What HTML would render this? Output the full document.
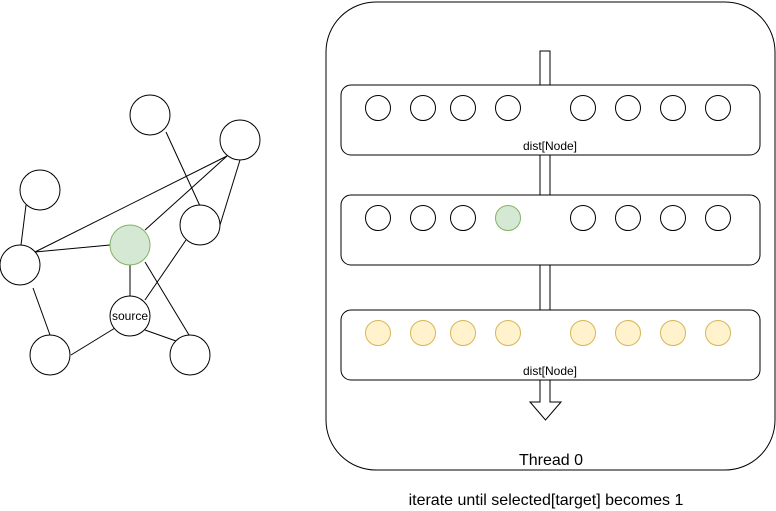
<!DOCTYPE html>
<html><head><style>body{margin:0;background:#fff}svg{display:block}text{font-family:"Liberation Sans",sans-serif}</style></head><body>
<svg width="776" height="511" viewBox="0 0 776 511" xmlns="http://www.w3.org/2000/svg">
<g stroke="#000" stroke-width="1" fill="none">
<line x1="166" y1="132" x2="200" y2="206"/>
<line x1="227" y1="156" x2="35" y2="252"/>
<line x1="227" y1="156" x2="145" y2="230"/>
<line x1="240" y1="160" x2="220" y2="225"/>
<line x1="26" y1="205" x2="21" y2="245"/>
<line x1="35" y1="252" x2="110" y2="245"/>
<line x1="130" y1="265" x2="130" y2="296"/>
<line x1="145" y1="262" x2="189" y2="335"/>
<line x1="186" y1="240" x2="145" y2="300"/>
<line x1="33" y1="288" x2="50" y2="335"/>
<line x1="71" y1="355" x2="115" y2="328"/>
<line x1="145" y1="330" x2="176" y2="341"/>
</g>
<g stroke="#000" fill="#fff">
<circle cx="150" cy="115" r="20"/><circle cx="240" cy="140" r="20"/><circle cx="40" cy="190" r="20"/>
<circle cx="200" cy="225" r="20"/><circle cx="20" cy="265" r="20"/><circle cx="130" cy="316" r="20"/>
<circle cx="50" cy="355" r="20"/><circle cx="190" cy="355" r="20"/>
</g>
<circle cx="130" cy="245" r="20" fill="#d5e8d4" stroke="#82b366"/>
<text x="130" y="320" font-size="12" text-anchor="middle">source</text>
<rect x="326" y="2" width="449" height="468" rx="50" fill="#fff" stroke="#000"/>
<rect x="341" y="85" width="419" height="70" rx="10" fill="#fff" stroke="#000"/>
<rect x="341" y="195" width="419" height="70" rx="10" fill="#fff" stroke="#000"/>
<rect x="341" y="310" width="419" height="70" rx="10" fill="#fff" stroke="#000"/>
<path d="M540 51 H550 V85 H540 Z M540 155 H550 V195 H540 Z M540 265 H550 V310 H540 Z" fill="#fff" stroke="#000"/>
<path d="M540 380 H550 V402 H561 L545.5 420 L530 402 H540 Z" fill="#fff" stroke="#000"/>
<g stroke="#000" fill="#fff">
<circle cx="378" cy="108" r="12.5"/><circle cx="423" cy="108" r="12.5"/><circle cx="463" cy="108" r="12.5"/><circle cx="508" cy="108" r="12.5"/>
<circle cx="583" cy="108" r="12.5"/><circle cx="628" cy="108" r="12.5"/><circle cx="673" cy="108" r="12.5"/><circle cx="718" cy="108" r="12.5"/>
<circle cx="378" cy="218" r="12.5"/><circle cx="423" cy="218" r="12.5"/><circle cx="463" cy="218" r="12.5"/>
<circle cx="583" cy="218" r="12.5"/><circle cx="628" cy="218" r="12.5"/><circle cx="673" cy="218" r="12.5"/><circle cx="718" cy="218" r="12.5"/>
</g>
<circle cx="508" cy="218" r="12.5" fill="#d5e8d4" stroke="#82b366"/>
<g stroke="#d6b656" fill="#fff2cc">
<circle cx="378" cy="333" r="12.5"/><circle cx="423" cy="333" r="12.5"/><circle cx="463" cy="333" r="12.5"/><circle cx="508" cy="333" r="12.5"/>
<circle cx="583" cy="333" r="12.5"/><circle cx="628" cy="333" r="12.5"/><circle cx="673" cy="333" r="12.5"/><circle cx="718" cy="333" r="12.5"/>
</g>
<text x="550" y="150" font-size="12" text-anchor="middle">dist[Node]</text>
<text x="550" y="375" font-size="12" text-anchor="middle">dist[Node]</text>
<text x="551" y="465" font-size="16" text-anchor="middle">Thread 0</text>
<text x="546" y="505" font-size="16" text-anchor="middle">iterate until selected[target] becomes 1</text>
</svg>
</body></html>
